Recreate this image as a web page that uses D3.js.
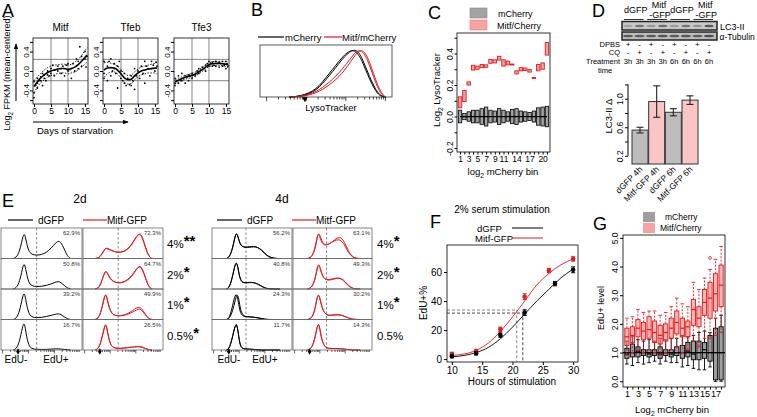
<!DOCTYPE html>
<html><head><meta charset="utf-8">
<script src="https://cdn.jsdelivr.net/npm/d3@7/dist/d3.min.js"></script>
<style>html,body{margin:0;padding:0;background:#fff;}</style>
</head><body>
<script>
// ===================== DATA =====================
// Panel A
const aTitles = ["Mitf", "Tfeb", "Tfe3"];
const aXTicks = [0, 5, 10, 15];
const aYTicks = [-0.6, -0.4, 0, 0.4, 0.6];
const aYLabels = [-0.4, 0, 0.4];
const aGridDays = [5, 10];
const aGridVals = [0.24, -0.2];
const fitDays = [0,1,2,3,4,5,6,7,8,9,10,11,12,13,14,15,15.6];
const mitfFit = [-0.32,-0.22,-0.14,-0.08,-0.03,0.0,0.02,0.04,0.05,0.05,0.03,0.05,0.08,0.13,0.2,0.28,0.33];
const mitfUp  = [-0.2,-0.12,-0.05,0.02,0.07,0.1,0.12,0.13,0.14,0.14,0.12,0.14,0.18,0.24,0.32,0.42,0.48];
const mitfLo  = [-0.45,-0.33,-0.24,-0.18,-0.13,-0.1,-0.08,-0.05,-0.04,-0.04,-0.06,-0.04,-0.02,0.02,0.08,0.14,0.18];
const tfebFit = [0.02,0.06,0.07,0.06,0.02,-0.06,-0.14,-0.18,-0.17,-0.1,-0.04,0.0,0.02,0.04,0.05,0.06,0.06];
const tfebUp  = [0.17,0.18,0.16,0.14,0.1,0.03,-0.05,-0.09,-0.08,-0.02,0.04,0.08,0.1,0.12,0.14,0.16,0.19];
const tfebLo  = [-0.13,-0.06,-0.02,-0.02,-0.06,-0.15,-0.23,-0.27,-0.26,-0.18,-0.12,-0.08,-0.06,-0.04,-0.04,-0.04,-0.07];
const tfe3Fit = [-0.22,-0.19,-0.16,-0.13,-0.11,-0.09,-0.06,-0.02,0.03,0.08,0.13,0.15,0.16,0.16,0.15,0.14,0.13];
const tfe3Up  = [-0.17,-0.15,-0.12,-0.09,-0.07,-0.05,-0.02,0.02,0.07,0.12,0.17,0.19,0.2,0.2,0.19,0.19,0.19];
const tfe3Lo  = [-0.27,-0.23,-0.2,-0.17,-0.15,-0.13,-0.1,-0.06,-0.01,0.04,0.09,0.11,0.12,0.12,0.11,0.09,0.07];
const mitfPts = [[0,-0.22],[0,-0.45],[0,-0.55],[0.5,-0.3],[1,-0.15],[1,-0.35],[1,-0.25],[1.5,-0.2],[2,-0.12],[2,-0.2],[2.5,-0.05],[2.5,-0.3],[3,-0.08],[3,-0.15],[3.5,-0.2],[4,0.0],[4,-0.08],[4.5,-0.1],[5,0.05],[5,-0.05],[5.5,0.12],[6,0.02],[6,-0.1],[7,0.1],[7,0.0],[8,0.05],[8,-0.05],[8.5,0.1],[9,-0.1],[9.5,0.12],[10,0.15],[10,0.0],[10.5,0.03],[11,-0.15],[11.5,0.15],[12,0.0],[12.5,0.25],[13,0.05],[13,0.2],[13.5,0.5],[14,0.3],[14,0.1],[15,0.25],[15,0.4],[15.3,0.08],[15.6,0.3]];
const tfebPts = [[0,0.2],[0,-0.05],[0,-0.15],[0.5,0.05],[1,0.1],[1,-0.2],[1.5,0.2],[2,0.25],[2,-0.1],[2.5,0.0],[3,0.15],[3,0.05],[3.5,-0.05],[4,0.1],[4,-0.35],[4.5,0.2],[5,-0.15],[5,0.0],[5.5,-0.2],[6,-0.25],[6,-0.05],[6.5,-0.3],[7,-0.15],[7.5,-0.28],[8,-0.1],[8,-0.3],[8.5,-0.2],[9,0.05],[9,-0.38],[9.5,-0.1],[10,0.0],[10.5,-0.15],[11,0.1],[11.5,-0.05],[12,0.2],[12,-0.25],[12.5,0.1],[13,0.05],[13.5,-0.1],[14,0.2],[14,0.05],[14.5,0.12],[15,0.0],[15.3,0.18],[15.6,0.1]];
const tfe3Pts = [[0,-0.15],[0,-0.25],[0,-0.3],[0.5,-0.2],[1,-0.1],[1,-0.25],[1.5,-0.18],[2,-0.05],[2,-0.2],[2.5,-0.15],[3,-0.1],[3,-0.25],[3.5,-0.12],[4,-0.08],[4,-0.2],[4.5,-0.1],[5,-0.05],[5,-0.15],[5.5,-0.08],[6,-0.1],[6.5,0.0],[7,0.05],[7,-0.05],[7.5,0.02],[8,0.08],[8.5,0.05],[9,0.12],[9,0.0],[9.5,0.15],[10,0.2],[10,0.1],[10.5,0.15],[11,0.18],[11,0.1],[11.5,0.12],[12,0.2],[12,0.1],[12.5,0.15],[13,0.18],[13,0.08],[13.5,0.15],[14,0.2],[14,0.1],[14.5,0.12],[15,0.2],[15,0.05],[15.3,0.15],[15.6,0.1]];

// Panel B (LysoTracker histograms, arbitrary log units 0-100)
const bX      = [22,28,34,40,45,50,55,60,64,68,71,74,77,80,83,86,89,92,95];
const bBlack1 = [0,0.01,0.04,0.1,0.2,0.36,0.52,0.7,0.83,0.93,0.97,0.95,0.82,0.62,0.42,0.24,0.09,0.02,0];
const bBlack2 = [0,0.01,0.05,0.12,0.23,0.4,0.57,0.74,0.87,0.95,0.96,0.9,0.76,0.56,0.37,0.2,0.07,0.01,0];
const bRed1   = [0,0.005,0.02,0.06,0.12,0.2,0.3,0.42,0.55,0.7,0.82,0.93,0.97,0.9,0.72,0.48,0.25,0.08,0];
const bRed2   = [0,0.01,0.03,0.08,0.15,0.25,0.36,0.5,0.63,0.77,0.88,0.96,0.95,0.85,0.65,0.42,0.2,0.05,0];
const bLegend = ["mCherry", "Mitf/mCherry"];

// Panel C
const cBins = [1,2,3,4,5,6,7,8,9,10,11,12,13,14,15,16,17,18,19,20,21];
const cXLabels = [1,3,5,7,9,11,14,17,20];
const cYTicks = [-0.2,-0.1,0,0.1,0.2,0.3,0.4,0.5];
const cYLabels = [-0.2,0,0.2,0.4];
const cRedMed  = [0.09,0.13,0.21,0.31,0.31,0.32,0.32,0.35,0.35,0.37,0.34,0.34,0.33,0.28,0.30,0.30,0.29,0.245,0.31,0.32,0.43];
const cRedHalf = [0.035,0.035,0.01,0.015,0.01,0.01,0.008,0.012,0.01,0.012,0.02,0.012,0.003,0.01,0.01,0.008,0.008,0.003,0.02,0.02,0.04];
const cGrayMed = [0,0,0,0,0,0,0,0,0,0,0,0,0,0,0,0,0,0,0,0,0];
const cGrayHalf= [0.04,0.02,0.03,0.04,0.04,0.05,0.06,0.04,0.035,0.05,0.04,0.03,0.045,0.05,0.035,0.03,0.025,0.035,0.055,0.06,0.065];
const cLegend = ["mCherry", "Mitf/Cherry"];

// Panel D
const dHeaders = [["dGFP"],["Mitf","-GFP"],["dGFP"],["Mitf","-GFP"]];
const dDPBS = ["+","-","+","-","+","-","+","-"];
const dCQ   = ["-","+","-","+","-","+","-","+"];
const dTime = ["3h","3h","3h","3h","6h","6h","6h","6h"];
const dLC3Band = [0.25,0.55,0.3,0.6,0.3,0.55,0.35,0.75];
const dTubBand = [0.7,0.7,0.72,0.75,0.7,0.72,0.7,0.78];
const dBarLabels = ["dGFP 4h","Mitf-GFP 4h","dGFP 6h","Mitf-GFP 6h"];
const dBarValues = [0.56,0.96,0.81,0.98];
const dBarErr    = [0.04,0.22,0.05,0.06];
const dBarGroup  = ["dGFP","Mitf","dGFP","Mitf"];
const dYTicks = [0.2,0.4,0.6,0.8,1.0,1.2];
const dYLabels = [0.2,0.6,1.0];

// Panel E (EdU histograms; x = % of axis, y = relative density)
const e2dGrid = [15,20,24,27,29,31,34,38,44,50,56,62,67,71,74,78,82,86];
const e4dGrid = [18,22,26,29,31,33,35,38,42,47,52,57,62,66,70,75,80,85];
const eSerum = ["4%","2%","1%","0.5%"];
const e2dStars = ["**","*","*","*"];
const e4dStars = ["*","*","*",""];
const e2dPctGFP  = ["62.9%","50.8%","39.2%","16.7%"];
const e2dPctMitf = ["72.3%","64.7%","49.9%","26.5%"];
const e4dPctGFP  = ["56.2%","40.8%","24.3%","11.7%"];
const e4dPctMitf = ["63.1%","49.3%","30.2%","14.3%"];
const e2dGFP = [
 [0,0.05,0.35,0.75,0.87,0.6,0.25,0.13,0.11,0.13,0.2,0.35,0.52,0.6,0.55,0.33,0.07,0],
 [0,0.05,0.35,0.78,0.88,0.6,0.22,0.1,0.08,0.09,0.12,0.17,0.23,0.26,0.22,0.12,0.03,0],
 [0,0.05,0.4,0.82,0.92,0.6,0.2,0.08,0.06,0.07,0.1,0.14,0.18,0.2,0.17,0.09,0.02,0],
 [0,0.05,0.42,0.85,0.93,0.55,0.15,0.04,0.02,0.02,0.02,0.03,0.04,0.04,0.03,0.02,0.01,0]];
const e2dMitf = [
 [0,0.02,0.15,0.3,0.36,0.34,0.3,0.25,0.2,0.22,0.3,0.5,0.75,0.87,0.76,0.4,0.08,0],
 [0,0.03,0.3,0.55,0.62,0.52,0.36,0.25,0.2,0.22,0.3,0.45,0.68,0.8,0.7,0.4,0.08,0],
 [0,0.05,0.4,0.8,0.87,0.6,0.3,0.15,0.12,0.13,0.17,0.25,0.33,0.37,0.3,0.15,0.03,0],
 [0,0.05,0.45,0.83,0.9,0.55,0.18,0.07,0.05,0.06,0.08,0.1,0.12,0.12,0.1,0.05,0.01,0]];
const e2dMitfRep = [
 [0,0.02,0.17,0.32,0.35,0.32,0.28,0.24,0.2,0.23,0.32,0.53,0.78,0.84,0.72,0.37,0.07,0],
 [0,0.03,0.32,0.58,0.6,0.5,0.34,0.24,0.2,0.23,0.32,0.48,0.7,0.77,0.67,0.38,0.07,0],
 [0,0.05,0.42,0.82,0.85,0.58,0.28,0.14,0.12,0.14,0.2,0.3,0.4,0.42,0.35,0.17,0.03,0],
 [0,0.05,0.43,0.8,0.88,0.56,0.19,0.08,0.05,0.06,0.08,0.1,0.11,0.11,0.09,0.05,0.01,0]];
const e4dGFP = [
 [0,0.05,0.35,0.78,0.88,0.7,0.5,0.4,0.37,0.38,0.4,0.38,0.3,0.18,0.08,0.02,0,0],
 [0,0.05,0.45,0.85,0.92,0.65,0.35,0.22,0.2,0.22,0.22,0.18,0.1,0.04,0.01,0,0,0],
 [0,0.05,0.5,0.85,0.86,0.6,0.25,0.12,0.09,0.09,0.08,0.06,0.03,0.01,0,0,0,0],
 [0,0.05,0.5,0.85,0.9,0.55,0.15,0.05,0.03,0.03,0.02,0.01,0,0,0,0,0,0]];
const e4dGFPRep = [
 [0,0.05,0.37,0.8,0.86,0.68,0.48,0.4,0.38,0.4,0.42,0.38,0.28,0.16,0.07,0.02,0,0],
 [0,0.05,0.47,0.86,0.9,0.63,0.33,0.22,0.21,0.23,0.22,0.17,0.09,0.03,0.01,0,0,0],
 [0,0.03,0.3,0.65,0.85,0.8,0.4,0.15,0.1,0.09,0.08,0.06,0.03,0.01,0,0,0,0],
 [0,0.05,0.48,0.83,0.88,0.56,0.16,0.05,0.03,0.03,0.02,0.01,0,0,0,0,0,0]];
const e4dMitf = [
 [0,0.02,0.15,0.45,0.78,0.88,0.7,0.5,0.45,0.5,0.62,0.72,0.7,0.5,0.25,0.06,0.01,0],
 [0,0.02,0.15,0.45,0.75,0.86,0.65,0.4,0.3,0.3,0.34,0.37,0.35,0.25,0.12,0.03,0,0],
 [0,0.02,0.15,0.5,0.8,0.86,0.6,0.3,0.15,0.13,0.15,0.16,0.14,0.1,0.05,0.01,0,0],
 [0,0.02,0.2,0.55,0.85,0.9,0.55,0.2,0.07,0.05,0.05,0.05,0.04,0.03,0.01,0,0,0]];
const e4dMitfRep = [
 [0,0.02,0.18,0.5,0.82,0.82,0.62,0.47,0.45,0.52,0.6,0.65,0.6,0.42,0.2,0.05,0,0],
 [0,0.02,0.17,0.48,0.78,0.84,0.62,0.4,0.31,0.32,0.36,0.38,0.34,0.23,0.1,0.02,0,0],
 [0,0.02,0.17,0.52,0.82,0.84,0.58,0.3,0.16,0.14,0.16,0.17,0.15,0.1,0.05,0.01,0,0],
 [0,0.02,0.22,0.57,0.86,0.88,0.53,0.2,0.07,0.05,0.05,0.05,0.04,0.03,0.01,0,0,0]];
const eLegend = ["dGFP", "Mitf-GFP"];

// Panel F
const fHours = [10,14,18,22,26,30];
const fHoursGFP = [10,14,18,22,27,30];
const fGFP  = [2,4,16.5,32,52,61.5];
const fMitf = [3.5,5.5,20.5,43,61,69];
const fErrGFP  = [1.2,1.2,1.5,2,1.5,2];
const fErrMitf = [1.2,1.2,1.5,2,1.5,1.5];
const fFitHours = [10,12,14,16,18,20,22,24,26,28,30];
const fFitGFP   = [1.5,2.5,4.5,8,14,22,31,40,48,56,62];
const fFitMitf  = [2.5,3.5,6,11,19,29,40,51,59,65,69];
const fHalfGFP  = [21.7,31.7];
const fHalfMitf = [20.7,33.8];
const fXTicks = [10,15,20,25,30];
const fYTicks = [0,20,40,60];

// Panel G
const gBins = [1,2,3,4,5,6,7,8,9,10,11,12,13,14,15,16,17,18];
const gXLabels = [1,3,5,7,9,11,13,15,17];
const gYTicks = [0,1,2,3,4,5];
const gGrayQ1  = [0.8,0.85,0.85,0.9,0.85,0.9,0.8,0.9,0.85,0.9,0.8,0.85,0.75,0.75,0.8,0.7,0.05,0.05];
const gGrayMed = [0.95,1.0,1.05,1.0,0.95,1.0,0.95,1.0,0.95,1.0,1.0,1.05,0.95,1.0,1.1,1.0,1.0,1.0];
const gGrayQ3  = [1.15,1.3,1.2,1.1,1.1,1.1,1.2,1.1,1.1,1.2,1.25,1.35,1.4,1.4,1.35,1.6,1.85,1.9];
const gGrayLo  = [0.6,0.55,0.65,0.6,0.65,0.7,0.6,0.7,0.65,0.65,0.5,0.55,0.45,0.4,0.4,0.5,0,0];
const gGrayHi  = [1.4,1.55,1.45,1.4,1.45,1.4,1.5,1.45,1.5,1.5,1.6,1.55,1.6,1.7,1.75,1.7,2.2,2.3];
const gRedQ1   = [1.25,1.35,1.55,1.45,1.5,1.35,1.3,1.4,1.5,1.65,1.55,1.55,1.95,1.9,2.3,2.2,2.45,2.6];
const gRedMed  = [1.55,1.6,1.85,1.75,1.8,1.7,1.6,1.7,1.85,2.05,1.85,1.9,2.5,2.2,2.75,2.9,3.05,3.35];
const gRedQ3   = [1.85,1.9,2.15,2.05,2.25,2.1,1.95,2.0,2.2,2.45,2.2,2.1,2.85,2.6,3.2,3.45,3.75,4.05];
const gRedLo   = [0.9,1.0,1.1,1.0,1.1,1.0,0.9,1.0,1.1,1.2,1.0,1.1,1.4,1.2,1.5,1.5,1.6,1.7];
const gRedHi   = [2.2,2.25,2.5,2.4,2.45,2.45,2.3,2.4,2.6,2.9,2.7,2.6,3.45,3.2,3.6,3.9,4.25,4.7];
const gRedOut  = [[16,4.3]];
const gLegend = ["mCherry", "Mitf/Cherry"];

// ===================== DRAWING =====================
const FONT = "'Liberation Sans', Arial, Helvetica, sans-serif";
const RED = "#e3191c";
const svg = d3.select("body").append("svg").attr("width", 757).attr("height", 417)
  .style("font-family", FONT).style("display", "block");
svg.append("rect").attr("width", 757).attr("height", 417).attr("fill", "#fff");

function txt(g, x, y, s, o = {}) {
  const t = g.append("text").attr("x", x).attr("y", y).text(s)
    .attr("font-size", o.size || 9).attr("fill", o.fill || "#000")
    .attr("text-anchor", o.anchor || "start").attr("font-family", FONT);
  if (o.rotate) t.attr("transform", `rotate(${o.rotate},${x},${y})`);
  if (o.weight) t.attr("font-weight", o.weight);
  return t;
}
function subTxt(g, x, y, before, sub, after, o = {}) {
  const t = g.append("text").attr("x", x).attr("y", y).attr("font-size", o.size || 9)
    .attr("text-anchor", o.anchor || "start").attr("font-family", FONT);
  if (o.rotate) t.attr("transform", `rotate(${o.rotate},${x},${y})`);
  t.append("tspan").text(before);
  t.append("tspan").text(sub).attr("font-size", (o.size || 9) * 0.7).attr("dy", 2.5);
  t.append("tspan").text(after).attr("dy", -2.5);
  return t;
}
function styleAxis(ax, size) {
  ax.attr("font-family", FONT).attr("font-size", size);
  ax.select(".domain").remove();
  ax.selectAll(".tick line").attr("stroke", "#000");
  ax.selectAll(".tick text").attr("fill", "#000");
}
function rotLeft(ax, k) {
  ax.selectAll(".tick text").attr("x", 0).attr("y", -k).attr("dy", 0)
    .attr("text-anchor", "middle").attr("transform", "rotate(-90)");
}
function frame(g, x0, y0, x1, y1, col = "#000", w = 0.8) {
  g.append("rect").attr("x", x0).attr("y", y0).attr("width", x1 - x0).attr("height", y1 - y0)
    .attr("fill", "none").attr("stroke", col).attr("stroke-width", w);
}

// Panel letters
[["A",2,17],["B",251,16],["C",428,19],["D",592,17],["E",2,207],["F",430,228],["G",593,230]]
  .forEach(([l,x,y]) => txt(svg, x, y, l, {size: 18}));

// ---------- Panel A ----------
{
  const aLeft = [33, 103, 174], aW = 55, aTop = 38, aBot = 104;
  const pts = [mitfPts, tfebPts, tfe3Pts], fits = [mitfFit, tfebFit, tfe3Fit];
  const ups = [mitfUp, tfebUp, tfe3Up], los = [mitfLo, tfebLo, tfe3Lo];
  aTitles.forEach((name, i) => {
    const g = svg.append("g");
    const x = d3.scaleLinear().domain([-0.3, 15.9]).range([aLeft[i], aLeft[i] + aW]);
    const y = d3.scaleLinear().domain([-0.68, 0.68]).range([aBot, aTop]);
    aGridDays.forEach(d => g.append("line").attr("x1", x(d)).attr("x2", x(d)).attr("y1", aTop).attr("y2", aBot).attr("stroke", "#666").attr("stroke-width", 0.8));
    aGridVals.forEach(v => g.append("line").attr("x1", aLeft[i]).attr("x2", aLeft[i] + aW).attr("y1", y(v)).attr("y2", y(v)).attr("stroke", "#666").attr("stroke-width", 0.8));
    g.selectAll("circle").data(pts[i]).join("circle").attr("cx", d => x(d[0])).attr("cy", d => y(d[1])).attr("r", 0.9).attr("fill", "#000");
    const line = d3.line().x((d, j) => x(fitDays[j])).y(d => y(d)).curve(d3.curveMonotoneX);
    g.append("path").attr("d", line(fits[i])).attr("fill", "none").attr("stroke", "#000").attr("stroke-width", 1.6);
    [ups[i], los[i]].forEach(arr => g.append("path").attr("d", line(arr)).attr("fill", "none")
      .attr("stroke", "#000").attr("stroke-width", 0.9).attr("stroke-dasharray", "1.5,1.5"));
    frame(g, aLeft[i], aTop, aLeft[i] + aW, aBot);
    const ax = g.append("g").attr("transform", `translate(0,${aBot})`)
      .call(d3.axisBottom(x).tickValues(aXTicks).tickSize(3).tickPadding(1).tickFormat(d3.format("d")));
    styleAxis(ax, 8.5);
    const ay = g.append("g").attr("transform", `translate(${aLeft[i]},0)`)
      .call(d3.axisLeft(y).tickValues(aYTicks).tickSize(3).tickFormat(d => aYLabels.includes(d) ? d.toFixed(1) : ""));
    styleAxis(ay, 8);
    rotLeft(ay, 4);
    txt(g, aLeft[i] + aW / 2, 31, name, {size: 10, anchor: "middle"});
  });
  subTxt(svg, 10, 73, "Log", "2", " FPKM (mean-centered)", {size: 9, anchor: "middle", rotate: -90});
  const defs = svg.append("defs");
  defs.append("marker").attr("id", "arr").attr("viewBox", "0 0 10 10").attr("refX", 9).attr("refY", 5)
    .attr("markerWidth", 6).attr("markerHeight", 6).attr("orient", "auto")
    .append("path").attr("d", "M0,1 L10,5 L0,9 z").attr("fill", "#000");
  svg.append("line").attr("x1", 16).attr("x2", 16).attr("y1", 101).attr("y2", 44).attr("stroke", "#000").attr("stroke-width", 1).attr("marker-end", "url(#arr)");
  svg.append("line").attr("x1", 33).attr("x2", 128).attr("y1", 122).attr("y2", 122).attr("stroke", "#000").attr("stroke-width", 1).attr("marker-end", "url(#arr)");
  txt(svg, 37, 134, "Days of starvation", {size: 9.5});
}

// ---------- Panel B ----------
{
  const g = svg.append("g");
  const x = d3.scaleLinear().domain([0, 100]).range([260, 392]);
  const y = d3.scaleLinear().domain([0, 1.07]).range([97, 45]);
  const line = d3.line().x((d, j) => x(bX[j])).y(d => y(d)).curve(d3.curveBasis);
  [[bBlack1, "#000"], [bBlack2, "#000"], [bRed1, RED], [bRed2, RED]].forEach(([arr, c]) =>
    g.append("path").attr("d", line(arr)).attr("fill", "none").attr("stroke", c).attr("stroke-width", 1));
  frame(g, 260, 45, 392, 97, "#333", 0.8);
  [5, 35, 65, 95].forEach(d => {
    [1,2,3,4,5,6,7,8,9].forEach(k => {
      const v = d + 30 * Math.log10(k);
      if (v > 100) return;
      g.append("line").attr("x1", x(v)).attr("x2", x(v)).attr("y1", 97).attr("y2", k === 1 ? 101 : 99.5).attr("stroke", "#000").attr("stroke-width", 0.7);
    });
  });
  g.append("path").attr("d", d3.symbol(d3.symbolTriangle, 14)()).attr("transform", `translate(${x(34)},99) rotate(180)`).attr("fill", "#000");
  txt(g, 331, 111, "LysoTracker", {size: 9.5, anchor: "middle"});
  g.append("line").attr("x1", 258).attr("x2", 284).attr("y1", 37).attr("y2", 37).attr("stroke", "#000").attr("stroke-width", 1.2);
  txt(g, 285, 40.5, bLegend[0], {size: 9.5});
  g.append("line").attr("x1", 324).attr("x2", 342).attr("y1", 37).attr("y2", 37).attr("stroke", RED).attr("stroke-width", 1.2);
  txt(g, 342, 40.5, bLegend[1], {size: 9.5});
}

// ---------- Panel C ----------
{
  const g = svg.append("g");
  const x = d3.scaleLinear().domain([0.3, 21.7]).range([457, 550]);
  const y = d3.scaleLinear().domain([-0.225, 0.53]).range([152, 33]);
  const bw = 3.4;
  cBins.forEach((b, i) => {
    g.append("rect").attr("x", x(b) - bw / 2).attr("y", y(cGrayMed[i] + cGrayHalf[i])).attr("width", bw)
      .attr("height", y(cGrayMed[i] - cGrayHalf[i]) - y(cGrayMed[i] + cGrayHalf[i]))
      .attr("fill", "#a3a3a3").attr("stroke", "#000").attr("stroke-width", 0.8);
  });
  g.append("path").attr("d", d3.line().x((d, i) => x(cBins[i])).y(d => y(d))(cGrayMed)).attr("stroke", "#000").attr("stroke-width", 1.2).attr("fill", "none");
  cBins.forEach((b, i) => {
    const h = Math.max(1, y(cRedMed[i] - cRedHalf[i]) - y(cRedMed[i] + cRedHalf[i]));
    g.append("rect").attr("x", x(b) - bw / 2).attr("y", y(cRedMed[i]) - h / 2).attr("width", bw).attr("height", h)
      .attr("fill", "#f6a3a3").attr("stroke", RED).attr("stroke-width", 0.9);
  });
  frame(g, 457, 33, 550, 152);
  const ax = g.append("g").attr("transform", "translate(0,152)")
    .call(d3.axisBottom(x).tickValues(cBins).tickSize(2.5).tickPadding(1).tickFormat(d => cXLabels.includes(d) ? d : ""));
  styleAxis(ax, 8.5);
  const ay = g.append("g").attr("transform", "translate(457,0)")
    .call(d3.axisLeft(y).tickValues(cYTicks).tickSize(2.5).tickFormat(d => cYLabels.some(v => Math.abs(v - d) < 1e-9) ? d.toFixed(1) : ""));
  styleAxis(ay, 8.5);
  rotLeft(ay, 4);
  subTxt(g, 440, 90, "Log", "2", " LysoTracker", {size: 9.5, anchor: "middle", rotate: -90});
  subTxt(g, 503, 175, "log", "2", " mCherry bin", {size: 9.5, anchor: "middle"});
  g.append("rect").attr("x", 470).attr("y", 8).attr("width", 17).attr("height", 10).attr("fill", "#a3a3a3").attr("stroke", "#888").attr("stroke-width", 0.6);
  g.append("rect").attr("x", 470).attr("y", 20).attr("width", 17).attr("height", 10).attr("fill", "#f6a3a3").attr("stroke", "#e77").attr("stroke-width", 0.6);
  txt(g, 498, 17, cLegend[0], {size: 9});
  txt(g, 497, 28.5, cLegend[1], {size: 9});
}

// ---------- Panel D ----------
{
  const g = svg.append("g");
  const lane = d3.scalePoint().domain(d3.range(8)).range([628, 709]);
  dHeaders.forEach((h, k) => {
    const cx = (lane(2 * k) + lane(2 * k + 1)) / 2 + 2;
    if (h.length === 1) txt(g, cx, 12.5, h[0], {size: 9, anchor: "middle"});
    else { txt(g, cx, 8, h[0], {size: 9, anchor: "middle"}); txt(g, cx + 1, 17.5, h[1], {size: 9, anchor: "middle"}); }
    g.append("line").attr("x1", lane(2 * k) - 4).attr("x2", lane(2 * k + 1) + 4).attr("y1", 19.5).attr("y2", 19.5).attr("stroke", "#000").attr("stroke-width", 0.8);
  });
  g.append("rect").attr("x", 622).attr("y", 21.5).attr("width", 95).attr("height", 8.5).attr("fill", "#c8c8c8").attr("stroke", "#222").attr("stroke-width", 1.5);
  g.append("rect").attr("x", 622).attr("y", 32).attr("width", 95).attr("height", 8).attr("fill", "#bdbdbd").attr("stroke", "#222").attr("stroke-width", 1.5);
  dLC3Band.forEach((v, i) => g.append("ellipse").attr("cx", lane(i)).attr("cy", 26).attr("rx", 4.5).attr("ry", 1.2).attr("fill", "#333").attr("opacity", v));
  dTubBand.forEach((v, i) => g.append("ellipse").attr("cx", lane(i)).attr("cy", 36).attr("rx", 5).attr("ry", 1.3).attr("fill", "#333").attr("opacity", v));
  txt(g, 720, 29.5, "LC3-II", {size: 9});
  txt(g, 719.5, 40, "\u03b1-Tubulin", {size: 8.5});
  txt(g, 620, 46.5, "DPBS", {size: 7.5, anchor: "end"});
  txt(g, 620, 54.5, "CQ", {size: 7.5, anchor: "end"});
  txt(g, 620, 64, "Treatment", {size: 7.5, anchor: "end"});
  txt(g, 605, 73, "time", {size: 7.5, anchor: "middle"});
  dDPBS.forEach((s, i) => txt(g, lane(i), 46.5, s, {size: 8, anchor: "middle"}));
  dCQ.forEach((s, i) => txt(g, lane(i), 54.5, s, {size: 8, anchor: "middle"}));
  dTime.forEach((s, i) => txt(g, lane(i), 64, s, {size: 7.5, anchor: "middle"}));
  const x = d3.scaleBand().domain(dBarLabels).range([632, 698]).paddingInner(0.04);
  const y = d3.scaleLinear().domain([0.085, 1.22]).range([164, 83]);
  dBarLabels.forEach((l, i) => {
    g.append("rect").attr("x", x(l)).attr("y", y(dBarValues[i])).attr("width", x.bandwidth()).attr("height", y(0.085) - y(dBarValues[i]))
      .attr("fill", dBarGroup[i] === "dGFP" ? "#bdbdbd" : "#f9c5c5").attr("stroke", "#333").attr("stroke-width", 1);
    const cx = x(l) + x.bandwidth() / 2;
    const e = g.append("g").attr("stroke", "#222").attr("stroke-width", 1.1);
    e.append("line").attr("x1", cx).attr("x2", cx).attr("y1", y(dBarValues[i] - dBarErr[i])).attr("y2", y(dBarValues[i] + dBarErr[i]));
    [dBarValues[i] - dBarErr[i], dBarValues[i] + dBarErr[i]].forEach(v => e.append("line").attr("x1", cx - 3.5).attr("x2", cx + 3.5).attr("y1", y(v)).attr("y2", y(v)));
    txt(g, cx + 3, 170, l, {size: 8.5, anchor: "end", rotate: -45});
  });
  const ay = g.append("g").attr("transform", "translate(628,0)")
    .call(d3.axisLeft(y).tickValues(dYTicks).tickSize(3).tickFormat(d => dYLabels.some(v => Math.abs(v - d) < 1e-9) ? d.toFixed(1) : ""));
  styleAxis(ay, 8.5);
  ay.append("line").attr("x1", 0).attr("x2", 0).attr("y1", y(0.2)).attr("y2", y(1.2)).attr("stroke", "#000");
  rotLeft(ay, 5);
  txt(g, 612, 116, "LC3-II \u0394", {size: 9.5, anchor: "middle", rotate: -90});
}

// ---------- Panel E ----------
{
  const rowTop = 228, rowH = 30.5;
  const blocks = [
    {title: "2d", tx: 80, grid: e2dGrid, dash: 44, cols: [[1, 82], [83, 163]], gfp: e2dGFP, gfpRep: null, mitf: e2dMitf, mitfRep: e2dMitfRep,
     pG: e2dPctGFP, pM: e2dPctMitf, stars: e2dStars, labX: 167, legX: 8, edu: [16, 56]},
    {title: "4d", tx: 282, grid: e4dGrid, dash: 42.5, cols: [[212, 292], [293, 372]], gfp: e4dGFP, gfpRep: e4dGFPRep, mitf: e4dMitf, mitfRep: e4dMitfRep,
     pG: e4dPctGFP, pM: e4dPctMitf, stars: e4dStars, labX: 377, legX: 217, edu: [229, 265]}
  ];
  blocks.forEach(B => {
    const g = svg.append("g");
    txt(g, B.tx, 203, B.title, {size: 12, anchor: "middle"});
    g.append("line").attr("x1", B.legX).attr("x2", B.legX + 25).attr("y1", 220).attr("y2", 220).attr("stroke", "#000").attr("stroke-width", 1.2);
    txt(g, B.legX + 30, 224, eLegend[0], {size: 10});
    g.append("line").attr("x1", B.legX + 75).attr("x2", B.legX + 99).attr("y1", 220).attr("y2", 220).attr("stroke", RED).attr("stroke-width", 1.2);
    txt(g, B.legX + 99, 224, eLegend[1], {size: 10});
    B.cols.forEach(([c0, c1], ci) => {
      const x = d3.scaleLinear().domain([0, 100]).range([c0, c1]);
      const col = ci === 0 ? "#000" : RED;
      const data = ci === 0 ? B.gfp : B.mitf, rep = ci === 0 ? B.gfpRep : B.mitfRep;
      const pct = ci === 0 ? B.pG : B.pM;
      eSerum.forEach((s, r) => {
        const top = rowTop + r * rowH, bot = top + rowH;
        const y = d3.scaleLinear().domain([0, 1]).range([bot, top + 1]);
        g.append("line").attr("x1", x(B.dash)).attr("x2", x(B.dash)).attr("y1", top).attr("y2", bot).attr("stroke", "#555").attr("stroke-width", 0.7).attr("stroke-dasharray", "2.5,2");
        const line = d3.line().x((d, j) => x(B.grid[j])).y(d => y(d)).curve(d3.curveBasis);
        [data[r]].concat(rep ? [rep[r]] : []).forEach(arr =>
          g.append("path").attr("d", line(arr)).attr("fill", "none").attr("stroke", col).attr("stroke-width", 1));
        frame(g, c0, top, c1, bot, "#666", 0.8);
        txt(g, c1 - 2, top + 7, pct[r], {size: 6, anchor: "end", fill: "#333"});
      });
      const bot = rowTop + 4 * rowH;
      [2, 34, 66].forEach(d => [1,2,3,4,5,6,7,8,9].forEach(k => {
        const v = d + 32 * Math.log10(k);
        if (v > 99) return;
        g.append("line").attr("x1", x(v)).attr("x2", x(v)).attr("y1", bot).attr("y2", bot + (k === 1 ? 3.5 : 2)).attr("stroke", "#000").attr("stroke-width", 0.6);
      }));
      g.append("path").attr("d", d3.symbol(d3.symbolDiamond, 12)()).attr("transform", `translate(${x(21)},${bot + 1.5})`).attr("fill", "#000");
    });
    eSerum.forEach((s, r) => {
      const t = txt(g, B.labX, rowTop + r * rowH + 20, s, {size: 11.5});
      t.append("tspan").text(B.stars[r]).attr("font-size", 15).attr("font-weight", "bold").attr("dy", -2);
    });
    txt(g, B.edu[0], 363, "EdU-", {size: 10, anchor: "middle"});
    txt(g, B.edu[1], 363, "EdU+", {size: 10, anchor: "middle"});
  });
}

// ---------- Panel F ----------
{
  const g = svg.append("g");
  const x = d3.scaleLinear().domain([9.2, 30.8]).range([447, 578]);
  const y = d3.scaleLinear().domain([-2, 78.6]).range([362, 245]);
  txt(g, 502, 213, "2% serum stimulation", {size: 10, anchor: "middle"});
  txt(g, 477, 231.5, "dGFP", {size: 9.5});
  g.append("line").attr("x1", 512).attr("x2", 543).attr("y1", 228).attr("y2", 228).attr("stroke", "#000").attr("stroke-width", 1);
  txt(g, 475, 241.5, "Mitf-GFP", {size: 9.5});
  g.append("line").attr("x1", 512).attr("x2", 543).attr("y1", 238).attr("y2", 238).attr("stroke", RED).attr("stroke-width", 1);
  [[fHalfGFP, "#333"], [fHalfMitf, "#777"]].forEach(([h, c]) => {
    g.append("path").attr("d", `M${x(9.2)},${y(h[1])}H${x(h[0])}V${y(-2)}`).attr("fill", "none")
      .attr("stroke", c).attr("stroke-width", 0.9).attr("stroke-dasharray", "3,2");
  });
  const line = d3.line().curve(d3.curveMonotoneX);
  g.append("path").attr("d", line(fFitHours.map((h, i) => [x(h), y(fFitGFP[i])]))).attr("fill", "none").attr("stroke", "#000").attr("stroke-width", 0.9);
  g.append("path").attr("d", line(fFitHours.map((h, i) => [x(h), y(fFitMitf[i])]))).attr("fill", "none").attr("stroke", RED).attr("stroke-width", 0.9);
  [[fHours, fMitf, fErrMitf, RED], [fHoursGFP, fGFP, fErrGFP, "#000"]].forEach(([hs, vs, es, c]) => {
    hs.forEach((h, i) => {
      const cx = x(h);
      g.append("line").attr("x1", cx).attr("x2", cx).attr("y1", y(vs[i] - es[i])).attr("y2", y(vs[i] + es[i])).attr("stroke", c).attr("stroke-width", 1);
      [vs[i] - es[i], vs[i] + es[i]].forEach(v => g.append("line").attr("x1", cx - 2).attr("x2", cx + 2).attr("y1", y(v)).attr("y2", y(v)).attr("stroke", c).attr("stroke-width", 1));
      g.append("circle").attr("cx", cx).attr("cy", y(vs[i])).attr("r", 2.3).attr("fill", c);
    });
  });
  frame(g, 447, 245, 578, 362, "#000", 0.8);
  const ax = g.append("g").attr("transform", "translate(0,362)").call(d3.axisBottom(x).tickValues(fXTicks).tickSize(3).tickPadding(2));
  styleAxis(ax, 10);
  const ay = g.append("g").attr("transform", "translate(447,0)").call(d3.axisLeft(y).tickValues(fYTicks).tickSize(3).tickPadding(2));
  styleAxis(ay, 10);
  txt(g, 427, 303, "EdU+%", {size: 10, anchor: "middle", rotate: -90});
  txt(g, 512, 385, "Hours of stimulation", {size: 10, anchor: "middle"});
}

// ---------- Panel G ----------
{
  const g = svg.append("g");
  const x = d3.scaleLinear().domain([0.3, 18.7]).range([623, 725]);
  const y = d3.scaleLinear().domain([-0.2, 5.1]).range([387, 235]);
  const bw = 4.2;
  function boxes(q1, med, q3, lo, hi, fill, stroke, dashed) {
    gBins.forEach((b, i) => {
      const cx = x(b);
      const w = g.append("g").attr("stroke", stroke).attr("stroke-width", 0.9);
      w.append("line").attr("x1", cx).attr("x2", cx).attr("y1", y(q3[i])).attr("y2", y(hi[i])).attr("stroke-dasharray", dashed ? "2,1.5" : null);
      w.append("line").attr("x1", cx).attr("x2", cx).attr("y1", y(q1[i])).attr("y2", y(lo[i])).attr("stroke-dasharray", dashed ? "2,1.5" : null);
      w.append("line").attr("x1", cx - 1.8).attr("x2", cx + 1.8).attr("y1", y(hi[i])).attr("y2", y(hi[i]));
      w.append("line").attr("x1", cx - 1.8).attr("x2", cx + 1.8).attr("y1", y(lo[i])).attr("y2", y(lo[i]));
      g.append("rect").attr("x", cx - bw / 2).attr("y", y(q3[i])).attr("width", bw).attr("height", y(q1[i]) - y(q3[i]))
        .attr("fill", fill).attr("stroke", stroke).attr("stroke-width", 0.9);
      g.append("line").attr("x1", cx - bw / 2).attr("x2", cx + bw / 2).attr("y1", y(med[i])).attr("y2", y(med[i])).attr("stroke", stroke).attr("stroke-width", 1.2);
    });
  }
  boxes(gGrayQ1, gGrayMed, gGrayQ3, gGrayLo, gGrayHi, "#9e9e9e", "#000", false);
  g.append("line").attr("x1", 623).attr("x2", 725).attr("y1", y(1)).attr("y2", y(1)).attr("stroke", "#000").attr("stroke-width", 1.2);
  boxes(gRedQ1, gRedMed, gRedQ3, gRedLo, gRedHi, "rgba(246,120,120,0.55)", RED, true);
  gRedOut.forEach(([b, v]) => g.append("circle").attr("cx", x(b)).attr("cy", y(v)).attr("r", 1.4).attr("fill", "none").attr("stroke", RED).attr("stroke-width", 0.8));
  frame(g, 623, 235, 725, 387, "#000", 0.8);
  const ax = g.append("g").attr("transform", "translate(0,387)")
    .call(d3.axisBottom(x).tickValues(gBins).tickSize(2.5).tickPadding(1).tickFormat(d => gXLabels.includes(d) ? d : ""));
  styleAxis(ax, 9);
  const ay = g.append("g").attr("transform", "translate(623,0)").call(d3.axisLeft(y).tickValues(gYTicks).tickSize(3));
  styleAxis(ay, 8.5);
  rotLeft(ay, 5);
  txt(g, 604, 308, "EdU+ level", {size: 9, anchor: "middle", rotate: -90});
  subTxt(g, 672, 413, "Log", "2", " mCherry bin", {size: 9.5, anchor: "middle"});
  g.append("rect").attr("x", 643).attr("y", 212).attr("width", 12).attr("height", 10).attr("fill", "#9e9e9e");
  g.append("rect").attr("x", 643).attr("y", 223).attr("width", 12).attr("height", 10).attr("fill", "#f7a1a1");
  txt(g, 665, 220, gLegend[0], {size: 8.5});
  txt(g, 660, 231, gLegend[1], {size: 8.5});
}
</script>
</body></html>
